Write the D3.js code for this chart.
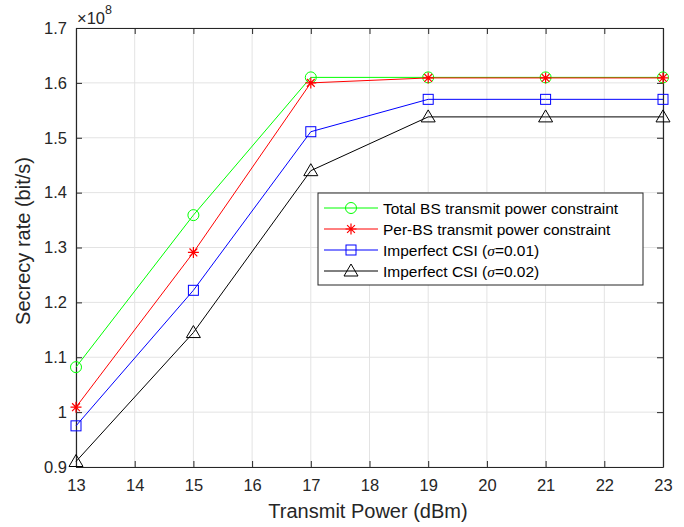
<!DOCTYPE html>
<html><head><meta charset="utf-8">
<script src="https://cdn.jsdelivr.net/npm/d3@7"></script>
<style>
body{margin:0;background:#fff;}
svg{font-family:"Liberation Sans",Arial,sans-serif;}
</style></head>
<body><svg id="c" width="684" height="527"></svg>
<script>
const xValues = [13, 15, 17, 19, 21, 23];
const totalBS = [1.082, 1.359, 1.610, 1.610, 1.610, 1.610];
const perBS = [1.009, 1.291, 1.600, 1.609, 1.609, 1.609];
const csi001 = [0.975, 1.222, 1.511, 1.570, 1.570, 1.570];
const csi002 = [0.910, 1.145, 1.440, 1.538, 1.538, 1.538];
const xTicks = [13,14,15,16,17,18,19,20,21,22,23];
const yTicks = [0.9,1.0,1.1,1.2,1.3,1.4,1.5,1.6,1.7];
const seriesNames = ["Total BS transmit power constraint","Per-BS transmit power constraint","Imperfect CSI (σ=0.01)","Imperfect CSI (σ=0.02)"];
const seriesColors = ["#00ff00","#ff0000","#0000ff","#000000"];
const seriesMarkers = ["circle","star","square","triangle"];
const seriesData = [totalBS, perBS, csi001, csi002];

const svg = d3.select("#c");
const L=76, R=663, T=28, B=467;
const x = d3.scaleLinear().domain([13,23]).range([L,R]);
const y = d3.scaleLinear().domain([0.9,1.7]).range([B,T]);

// grid
const g = svg.append("g");
g.selectAll(".gx").data(xTicks).enter().append("line")
  .attr("x1",d=>x(d)).attr("x2",d=>x(d)).attr("y1",T).attr("y2",B)
  .attr("stroke","#e3e3e3").attr("stroke-width",1);
g.selectAll(".gy").data(yTicks).enter().append("line")
  .attr("y1",d=>y(d)).attr("y2",d=>y(d)).attr("x1",L).attr("x2",R)
  .attr("stroke","#e3e3e3").attr("stroke-width",1);

// axes
const fmt = d => d3.format("~g")(+d.toFixed(1));
const axB = svg.append("g").attr("transform",`translate(0,${B})`)
  .call(d3.axisBottom(x).tickValues(xTicks).tickSizeInner(-6).tickSizeOuter(0).tickPadding(12).tickFormat(d3.format("d")));
const axT = svg.append("g").attr("transform",`translate(0,${T})`)
  .call(d3.axisTop(x).tickValues(xTicks).tickSizeInner(-6).tickSizeOuter(0).tickFormat(""));
const axL = svg.append("g").attr("transform",`translate(${L},0)`)
  .call(d3.axisLeft(y).tickValues(yTicks).tickSizeInner(-6).tickSizeOuter(0).tickPadding(9).tickFormat(fmt));
const axR = svg.append("g").attr("transform",`translate(${R},0)`)
  .call(d3.axisRight(y).tickValues(yTicks).tickSizeInner(-6).tickSizeOuter(0).tickFormat(""));
[axB,axT,axL,axR].forEach(a=>{
  a.selectAll("path").attr("stroke","#262626").attr("stroke-width",1.2);
  a.selectAll("line").attr("stroke","#262626");
  a.selectAll("text").attr("fill","#262626").style("font-size","16.5px").style("font-family","'Liberation Sans',Arial,sans-serif");
});
axB.selectAll("text").attr("dy","0.71em");

// exponent
const ex = svg.append("text").attr("x",77).attr("y",24).attr("fill","#262626").style("font-size","16.5px");
ex.append("tspan").text("×10");
ex.append("tspan").attr("dy",-10).style("font-size","12.5px").text("8");

// axis labels
svg.append("text").attr("x",368).attr("y",518).attr("text-anchor","middle")
  .attr("fill","#262626").style("font-size","20px").text("Transmit Power (dBm)");
svg.append("text").attr("transform",`translate(30,241) rotate(-90)`).attr("text-anchor","middle")
  .attr("fill","#262626").style("font-size","20px").text("Secrecy rate (bit/s)");

function drawMarker(sel, type, color){
  if(type==="circle") sel.append("circle").attr("r",5.5).attr("fill","none").attr("stroke",color).attr("stroke-width",1);
  else if(type==="square") sel.append("rect").attr("x",-5).attr("y",-5).attr("width",10).attr("height",10).attr("fill","none").attr("stroke",color).attr("stroke-width",1);
  else if(type==="triangle") sel.append("path").attr("d","M0,-7L7,5L-7,5Z").attr("fill","none").attr("stroke",color).attr("stroke-width",1);
  else if(type==="star"){
    const r=5.5, r2=3.9;
    sel.append("path").attr("d",`M${-r},0L${r},0M0,${-r}L0,${r}M${-r2},${-r2}L${r2},${r2}M${-r2},${r2}L${r2},${-r2}`)
      .attr("stroke",color).attr("stroke-width",1.2);
  }
}

const line = d3.line().x((d,i)=>x(xValues[i])).y(d=>y(d));
seriesData.forEach((data,k)=>{
  svg.append("path").datum(data).attr("d",line).attr("fill","none").attr("stroke",seriesColors[k]).attr("stroke-width",1);
  data.forEach((v,i)=>{
    const m = svg.append("g").attr("transform",`translate(${x(xValues[i])},${y(v)})`);
    drawMarker(m, seriesMarkers[k], seriesColors[k]);
  });
});

// legend
const lg = svg.append("g");
lg.append("rect").attr("x",318).attr("y",193).attr("width",325).attr("height",92)
  .attr("fill","#fff").attr("stroke","#262626").attr("stroke-width",1);
seriesNames.forEach((n,k)=>{
  const yy = 208 + k*21;
  lg.append("line").attr("x1",324).attr("x2",378).attr("y1",yy).attr("y2",yy).attr("stroke",seriesColors[k]).attr("stroke-width",1);
  drawMarker(lg.append("g").attr("transform",`translate(351,${yy})`), seriesMarkers[k], seriesColors[k]);
  const t = lg.append("text").attr("x",383).attr("y",yy+5.5).attr("fill","#000").style("font-size","15.5px");
  if(k<2) t.text(n);
  else {
    t.append("tspan").text("Imperfect CSI (");
    t.append("tspan").style("font-style","italic").style("font-family","'Liberation Serif',serif").text("σ");
    t.append("tspan").text(k===2?"=0.01)":"=0.02)");
  }
});
</script></body></html>
